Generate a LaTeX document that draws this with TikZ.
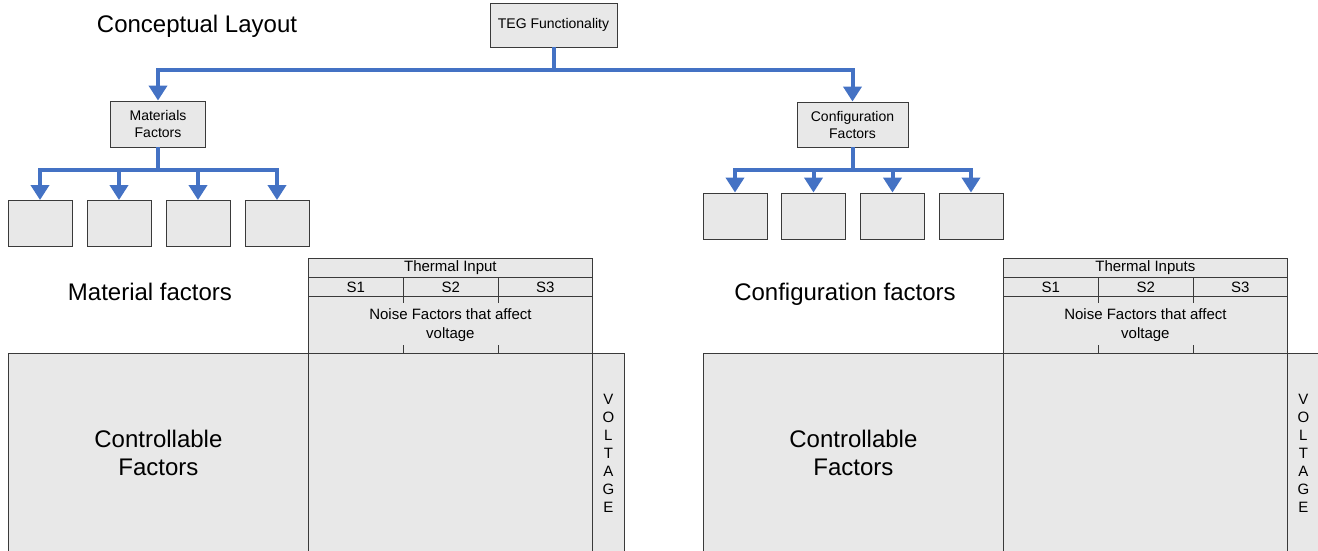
\documentclass[tikz,border=0pt]{standalone}
\usepackage{fontspec}
\setmainfont{Liberation Sans}
\usetikzlibrary{arrows.meta}
\definecolor{boxgray}{HTML}{E8E8E8}
\definecolor{edgegray}{HTML}{3A3A3A}
\definecolor{treeblue}{HTML}{4472C4}
\begin{document}
\begin{tikzpicture}[x=1pt,y=-1pt,
  box/.style={draw=edgegray, fill=boxgray, line width=0.9pt, inner sep=0pt, align=center, font=\fontsize{14}{17}\selectfont},
  cell/.style={draw=edgegray, fill=boxgray, line width=0.8pt, inner sep=0pt, anchor=north west, align=center, font=\fontsize{15}{18.5}\selectfont},
  title/.style={font=\fontsize{24}{28}\selectfont, align=center},
  stem/.style={draw=treeblue, line width=4pt},
  branch/.style={stem, -{Triangle[width=18pt,length=15pt]}}]
\useasboundingbox (0,0) rectangle (1318,550);
\clip (0,0) rectangle (1318,550);
\node[title, anchor=base] (layout) at (197,32) {Conceptual Layout};
\node[box, minimum width=127, minimum height=44] (teg) at (553.5,25) {TEG Functionality};
\node[box, minimum width=95, minimum height=46] (mat) at (158,124) {Materials\\Factors};
\node[box, minimum width=111, minimum height=45] (conf) at (852.5,124.5) {Configuration\\Factors};
\foreach \i/\x in {1/40,2/119,3/198,4/277}
  \node[box, minimum width=64, minimum height=46] (m\i) at (\x,223.5) {};
\foreach \i/\x in {1/735,2/813.5,3/892.5,4/971}
  \node[box, minimum width=64, minimum height=46] (c\i) at (\x,216) {};
\draw[stem] (teg.south) -- ++(0,23) coordinate (tj);
\draw[branch] (tj) -| (mat.north);
\draw[branch] (tj) -| (conf.north);
\draw[stem] (mat.south) -- ++(0,23) coordinate (mj);
\draw[stem] (conf.south) -- ++(0,23) coordinate (cj);
\foreach \i in {1,...,4} {
  \draw[branch] (mj) -| (m\i.north);
  \draw[branch] (cj) -| (c\i.north);
}
\node[title, anchor=base] (matlabel) at (150,300) {Material factors};
\node[title, anchor=base] (conflabel) at (845,300) {Configuration factors};
\foreach \p/\x/\head in {l/308/Thermal Input, r/1003/Thermal Inputs} {
  \node[cell, minimum width=284, minimum height=19] (head\p) at (\x,258) {\head};
  \node[cell, minimum width=95, minimum height=19] (sa\p) at (\x,277) {S1};
  \node[cell, minimum width=95, minimum height=19] (sb\p) at (\x+95,277) {S2};
  \node[cell, minimum width=94, minimum height=19] (sc\p) at (\x+190,277) {S3};
  \node[cell, minimum width=284, minimum height=57] (noise\p) at (\x,296) {Noise Factors that affect\\voltage};
  \draw[edgegray, line width=0.8pt] (sa\p.south east) -- ++(0,6) (sb\p.south east) -- ++(0,6);
  \draw[edgegray, line width=0.8pt] (sa\p.south east |- noise\p.south) -- ++(0,-9)
    (sb\p.south east |- noise\p.south) -- ++(0,-9);
  \node[cell, title, minimum width=300, minimum height=200] (ctrl\p) at (\x-300,353) {Controllable\\Factors};
  \node[cell, minimum width=284, minimum height=200] (resp\p) at (\x,353) {};
  \node[cell, minimum width=32, minimum height=200, font=\fontsize{15}{18}\selectfont] (volt\p) at (\x+284,353) {V\\O\\L\\T\\A\\G\\E};
}
\end{tikzpicture}
\end{document}
